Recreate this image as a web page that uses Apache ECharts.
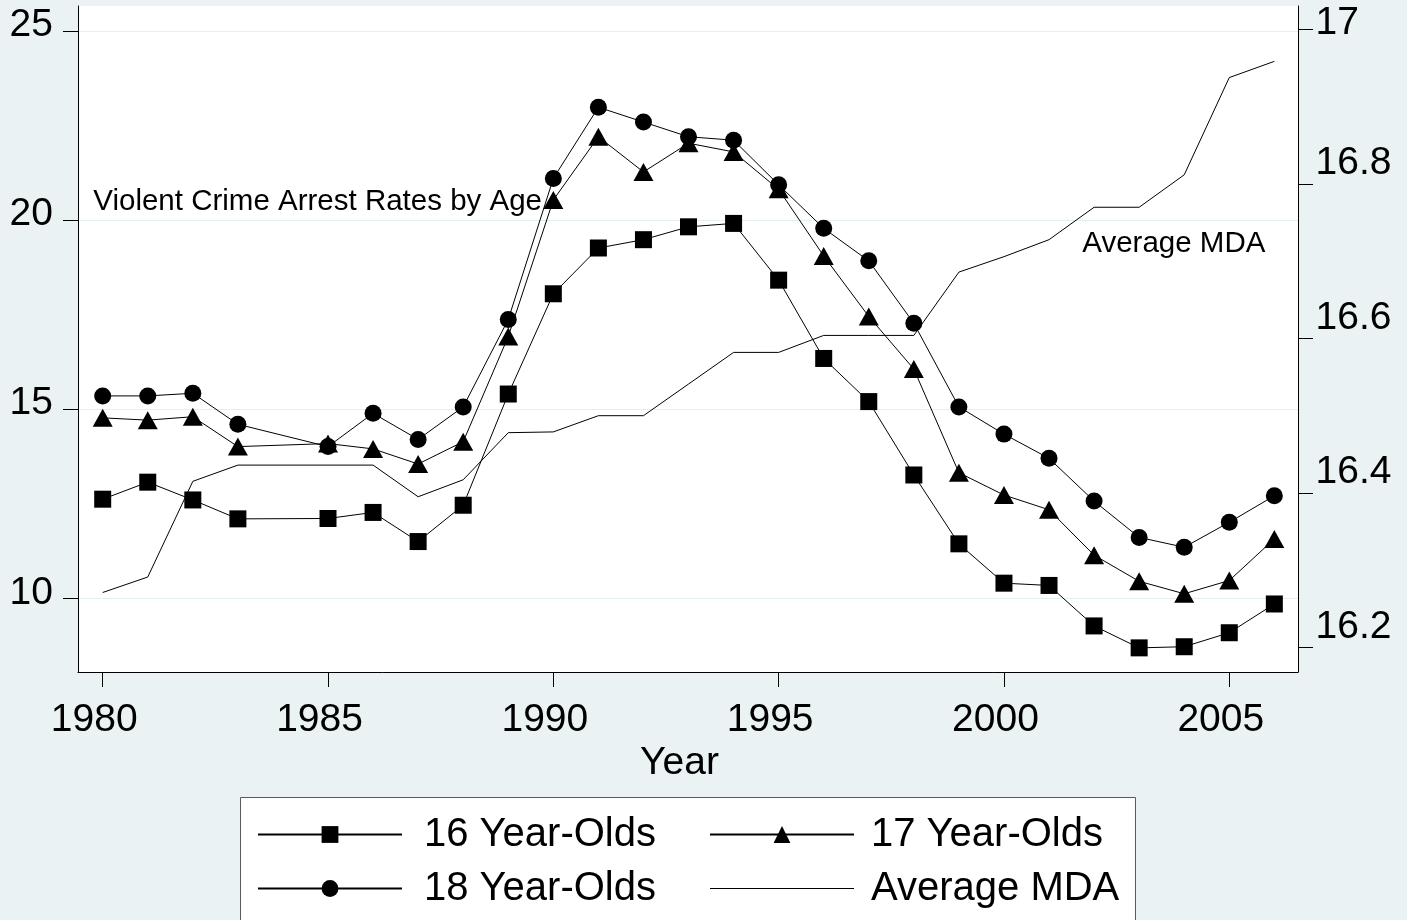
<!DOCTYPE html>
<html>
<head>
<meta charset="utf-8">
<script src="https://cdn.jsdelivr.net/npm/echarts@6/dist/echarts.min.js"></script>
<style>
  html, body { margin: 0; padding: 0; background: #eaf2f3; }
  #chart { width: 1407px; height: 920px; }
</style>
</head>
<body>
<div id="chart"></div>
<script>
// ---- data ----
const years = [1980, 1981, 1982, 1983, 1985, 1986, 1987, 1988, 1989, 1990, 1991, 1992, 1993,
  1994, 1995, 1996, 1997, 1998, 1999, 2000, 2001, 2002, 2003, 2004, 2005, 2006];
const age16 = [12.62, 13.07, 12.60, 12.10, 12.11, 12.27, 11.50, 12.46, 15.40, 18.05, 19.26, 19.48, 19.82,
  19.91, 18.41, 16.34, 15.20, 13.26, 11.44, 10.40, 10.34, 9.27, 8.69, 8.72, 9.09, 9.85];
const age17 = [14.77, 14.71, 14.80, 14.01, 14.09, 13.95, 13.55, 14.14, 16.92, 20.53, 22.20, 21.27, 22.03,
  21.80, 20.81, 19.05, 17.45, 16.06, 13.32, 12.73, 12.34, 11.14, 10.45, 10.12, 10.47, 11.57];
const age18 = [15.35, 15.35, 15.42, 14.60, 14.01, 14.89, 14.20, 15.06, 17.37, 21.10, 22.98, 22.59, 22.20,
  22.11, 20.93, 19.78, 18.92, 17.27, 15.06, 14.34, 13.70, 12.57, 11.61, 11.35, 12.01, 12.71];
const avgMDA = [16.271, 16.291, 16.415, 16.436, 16.436, 16.436, 16.395, 16.417, 16.478, 16.479, 16.500, 16.500, 16.541,
  16.582, 16.582, 16.604, 16.604, 16.604, 16.686, 16.706, 16.728, 16.770, 16.770, 16.812, 16.938, 16.959];
const xTicks = [1980, 1985, 1990, 1995, 2000, 2005];
const leftTicks = [10, 15, 20, 25];
const rightTicks = [16.2, 16.4, 16.6, 16.8, 17];
const seriesNames = ['16 Year-Olds', '17 Year-Olds', '18 Year-Olds', 'Average MDA'];

const pair = arr => years.map((y, i) => [y, arr[i]]);
const FONT = '"Liberation Sans", Arial, Helvetica, sans-serif';

const chart = echarts.init(document.getElementById('chart'), null, { renderer: 'canvas' });

const lineSeries = (name, arr, symbol, size, yIdx) => ({
  name, type: 'line', yAxisIndex: yIdx, data: pair(arr),
  symbol, symbolSize: size, showSymbol: symbol !== 'none',
  itemStyle: { color: '#000' },
  lineStyle: { color: '#000', width: 1 },
  emphasis: { disabled: true }, silent: true, z: 3
});

const legendBase = {
  orient: 'vertical', padding: 0, itemWidth: 144, itemHeight: 21, itemGap: 9,
  selectedMode: false, top: 812
};

chart.setOption({
  animation: false,
  backgroundColor: '#eaf2f3',
  grid: { left: 78, right: 109, top: 6, bottom: 248, show: true, backgroundColor: '#ffffff', borderWidth: 0 },
  xAxis: {
    type: 'value', min: 1979.452, max: 2006.525,
    name: 'Year', nameLocation: 'middle', nameGap: 65,
    nameTextStyle: { fontSize: 39, fontFamily: FONT, color: '#000', lineHeight: 39, padding: [0, 17, 0, 0] },
    axisLine: { show: true, onZero: false, lineStyle: { color: '#000', width: 1 } },
    axisTick: { show: true, customValues: xTicks, length: 15, lineStyle: { color: '#000', width: 1 } },
    axisLabel: { customValues: xTicks, margin: 28.3, fontSize: 39, fontFamily: FONT, color: '#000', lineHeight: 39,
      padding: [0, 17, 0, 0], formatter: v => String(v) },
    splitLine: { show: false }
  },
  yAxis: [
    {
      type: 'value', position: 'left', min: 8.052, max: 25.657,
      axisLine: { show: true, onZero: false, lineStyle: { color: '#000', width: 1 } },
      axisTick: { show: true, customValues: leftTicks, length: 15, lineStyle: { color: '#000', width: 1 } },
      axisLabel: { customValues: leftTicks, margin: 25, fontSize: 39, fontFamily: FONT, color: '#000',
        lineHeight: 11, verticalAlign: 'bottom', formatter: v => String(v) },
      splitLine: { show: true, lineStyle: { color: '#e6eff0', width: 1 } }
    },
    {
      type: 'value', position: 'right', min: 16.168, max: 17.0307,
      axisLine: { show: true, onZero: false, lineStyle: { color: '#000', width: 1 } },
      axisTick: { show: true, customValues: rightTicks, length: 15, lineStyle: { color: '#000', width: 1 } },
      axisLabel: { customValues: rightTicks.slice(0, 4), margin: 17.5, fontSize: 39, fontFamily: FONT, color: '#000',
        lineHeight: 41, verticalAlign: 'bottom', formatter: v => String(+(+v).toFixed(1)) },
      splitLine: { show: false }
    },
    {
      type: 'value', position: 'right', min: 16.168, max: 17.0307,
      axisLine: { show: false }, axisTick: { show: false },
      axisLabel: { customValues: rightTicks.slice(4), margin: 17.5, fontSize: 39, fontFamily: FONT, color: '#000',
        lineHeight: 12, verticalAlign: 'bottom', formatter: v => String(+(+v).toFixed(1)) },
      splitLine: { show: false }
    }
  ],
  legend: [
    Object.assign({}, legendBase, {
      left: 257, data: [seriesNames[0], seriesNames[2]],
      textStyle: { fontSize: 40, fontFamily: FONT, color: '#000', lineHeight: 45, padding: [0, 0, 0, 17] }
    }),
    Object.assign({}, legendBase, {
      left: 709, data: [seriesNames[1], { name: seriesNames[3], icon: 'path://M0 0H144V1H0Z' }],
      textStyle: { fontSize: 40, fontFamily: FONT, color: '#000', lineHeight: 45, padding: [0, 0, 0, 12] }
    })
  ],
  graphic: [
    { type: 'rect', z: 0, silent: true, shape: { x: 240.5, y: 797.5, width: 895, height: 160 },
      style: { fill: '#ffffff', stroke: '#5a5a5a', lineWidth: 1 } },
    { type: 'text', z: 5, silent: true, x: 93.3, y: 201.6,
      style: { text: 'Violent Crime Arrest Rates by Age', font: '29.5px ' + FONT, fill: '#000', verticalAlign: 'middle' } },
    { type: 'text', z: 5, silent: true, x: 1082.3, y: 243.4,
      style: { text: 'Average MDA', font: '29.5px ' + FONT, fill: '#000', verticalAlign: 'middle' } }
  ],
  series: [
    lineSeries(seriesNames[0], age16, 'rect', 17, 0),
    lineSeries(seriesNames[1], age17, 'triangle', [20, 18], 0),
    lineSeries(seriesNames[2], age18, 'circle', 17, 0),
    lineSeries(seriesNames[3], avgMDA, 'none', 0, 1)
  ]
});
</script>
</body>
</html>
